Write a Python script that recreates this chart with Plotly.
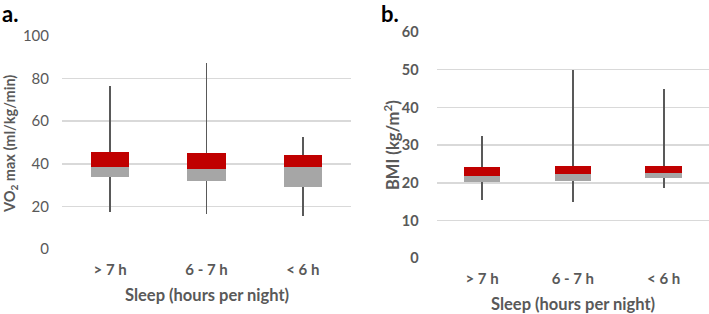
import plotly.graph_objects as go

categories = ["> 7 h", "6 - 7 h", "< 6 h"]

# Panel a: VO2 max (ml/kg/min)
vo2_min = [17.5, 16.4, 15.5]
vo2_q1 = [33.7, 31.9, 29.0]
vo2_median = [38.5, 37.6, 38.4]
vo2_q3 = [45.4, 45.2, 44.1]
vo2_max = [76.5, 87.5, 52.4]

# Panel b: BMI (kg/m2)
bmi_min = [15.5, 15.0, 18.6]
bmi_q1 = [20.3, 20.6, 21.4]
bmi_median = [21.8, 22.3, 22.5]
bmi_q3 = [24.2, 24.4, 24.5]
bmi_max = [32.5, 49.8, 44.9]

W, H = 709, 314
TXT = "#595959"
GRAY = "#a6a6a6"
RED = "#c00000"
FONT = "Lato"

fig = go.Figure()


def add_panel(xa, ya, mn, q1, med, q3, mx):
    fig.add_trace(go.Bar(x=categories, base=mn, y=[b - a for a, b in zip(mn, mx)],
                         width=0.02, marker=dict(color="#595959", line=dict(width=0)),
                         xaxis=xa, yaxis=ya, showlegend=False, hoverinfo="skip"))
    fig.add_trace(go.Bar(x=categories, base=q1, y=[b - a for a, b in zip(q1, med)],
                         width=0.4, marker=dict(color=GRAY, line=dict(width=0)),
                         xaxis=xa, yaxis=ya, showlegend=False))
    fig.add_trace(go.Bar(x=categories, base=med, y=[b - a for a, b in zip(med, q3)],
                         width=0.4, marker=dict(color=RED, line=dict(width=0)),
                         xaxis=xa, yaxis=ya, showlegend=False))


add_panel("x", "y", vo2_min, vo2_q1, vo2_median, vo2_q3, vo2_max)
add_panel("x2", "y2", bmi_min, bmi_q1, bmi_median, bmi_q3, bmi_max)

xa_dom = [62 / W, 351 / W]
ya_dom = [1 - 249 / H, 1 - 36 / H]
xb_dom = [436.7 / W, 1.0]
yb_dom = [1 - 258.3 / H, 1 - 32 / H]

common_x = dict(type="category", showgrid=False, showline=False, zeroline=False,
                ticks="", automargin=False,
                tickfont=dict(family=FONT, size=15, color=TXT, weight="bold"),
                fixedrange=True)
common_y = dict(showgrid=True, gridcolor="#d9d9d9", gridwidth=1.5, zeroline=False,
                showline=False, ticks="", automargin=False, fixedrange=True)

fig.update_layout(
    template="none",
    width=W, height=H,
    margin=dict(l=0, r=0, t=0, b=0, pad=0, autoexpand=False),
    paper_bgcolor="white", plot_bgcolor="white",
    barmode="overlay",
    bargap=0,
    font=dict(family=FONT, color=TXT),
    xaxis=dict(domain=xa_dom, anchor="y", ticklabelstandoff=10, **common_x),
    yaxis=dict(domain=ya_dom, anchor="x", range=[0, 100], dtick=20,
               tickfont=dict(family=FONT, size=15, color=TXT), ticklabelstandoff=12, **common_y),
    xaxis2=dict(domain=xb_dom, anchor="y2", ticklabelstandoff=10, **common_x),
    yaxis2=dict(domain=yb_dom, anchor="x2", range=[0, 60], dtick=10,
                tickfont=dict(family=FONT, size=14.5, color=TXT, weight="bold"), ticklabelstandoff=17,
                **common_y),
)

ann = []
ann.append(dict(text="<b>a.</b>", x=0, y=1 - 14 / H, xref="paper", yref="paper",
                xanchor="left", yanchor="middle", showarrow=False,
                font=dict(family=FONT, size=22, color="black")))
ann.append(dict(text="<b>b.</b>", x=379 / W, y=1 - 14 / H, xref="paper", yref="paper",
                xanchor="left", yanchor="middle", showarrow=False,
                font=dict(family=FONT, size=22, color="black")))
ann.append(dict(text="<b>Sleep (hours per night)</b>", x=(62 + 351) / 2 / W, y=1 - 295 / H,
                xref="paper", yref="paper", xanchor="center", yanchor="middle", showarrow=False,
                font=dict(family=FONT, size=16.5, color=TXT)))
ann.append(dict(text="<b>Sleep (hours per night)</b>", x=(436.7 + 709) / 2 / W, y=1 - 304 / H,
                xref="paper", yref="paper", xanchor="center", yanchor="middle", showarrow=False,
                font=dict(family=FONT, size=16.5, color=TXT)))
ann.append(dict(text="<b>VO<sub>2</sub> max (ml/kg/min)</b>", x=10 / W, y=1 - 144 / H,
                xref="paper", yref="paper", xanchor="center", yanchor="middle", showarrow=False,
                textangle=-90, font=dict(family=FONT, size=14.5, color=TXT)))
ann.append(dict(text="<b>BMI (kg/m<sup>2</sup>)</b>", x=392 / W, y=1 - 145 / H,
                xref="paper", yref="paper", xanchor="center", yanchor="middle", showarrow=False,
                textangle=-90, font=dict(family=FONT, size=16.5, color=TXT)))
fig.update_layout(annotations=ann)

fig.write_html("out.html", config={"displayModeBar": False, "staticPlot": True},
               post_script="document.body.style.margin='0';document.body.style.overflow='hidden';")
